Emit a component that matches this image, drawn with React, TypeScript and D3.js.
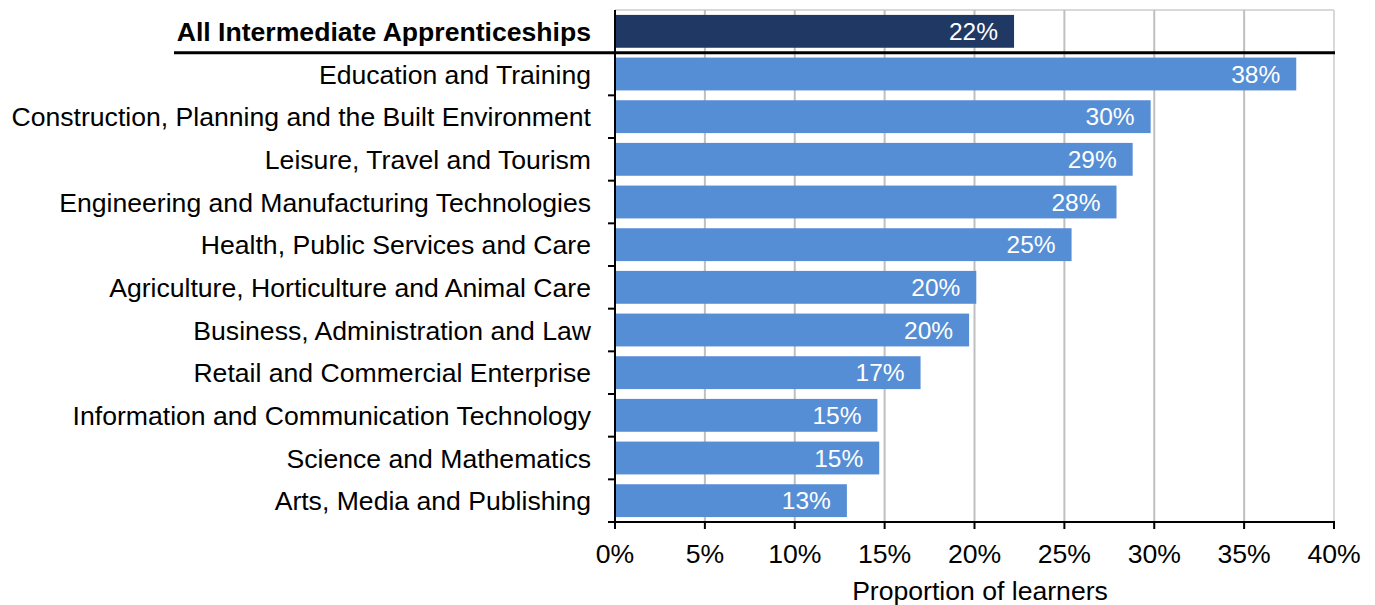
import React from "react";
import * as d3 from "d3";

const categories = [
  "All Intermediate Apprenticeships",
  "Education and Training",
  "Construction, Planning and the Built Environment",
  "Leisure, Travel and Tourism",
  "Engineering and Manufacturing Technologies",
  "Health, Public Services and Care",
  "Agriculture, Horticulture and Animal Care",
  "Business, Administration and Law",
  "Retail and Commercial Enterprise",
  "Information and Communication Technology",
  "Science and Mathematics",
  "Arts, Media and Publishing",
];
const values = [22.2, 37.9, 29.8, 28.8, 27.9, 25.4, 20.1, 19.7, 17.0, 14.6, 14.7, 12.9];
const valueLabels = ["22%", "38%", "30%", "29%", "28%", "25%", "20%", "20%", "17%", "15%", "15%", "13%"];
const xTicks = [0, 5, 10, 15, 20, 25, 30, 35, 40];
const xTitle = "Proportion of learners";

const W = 1375;
const H = 605;
const M = { left: 615, right: 41, top: 10, bottom: 83 };
const FONT = "Liberation Sans, Arial, Helvetica, sans-serif";
const LABEL_SIZE = 26.6;

export default function App() {
  const x = d3.scaleLinear().domain([0, 40]).range([M.left, W - M.right]);
  const y = d3
    .scaleBand<string>()
    .domain(categories)
    .range([M.top, H - M.bottom])
    .paddingInner(0.23)
    .paddingOuter(0.115);
  const step = y.step();
  const top = M.top;
  const bottom = H - M.bottom;
  const boundaries = categories.map((_, i) => top + step * (i + 1));

  return (
    <svg
      width={W}
      height={H}
      style={{ position: "absolute", left: 0, top: 0, background: "#fff" }}
      fontFamily={FONT}
    >
      <line x1={x(0)} x2={x(40)} y1={top} y2={top} stroke="#d9d9d9" strokeWidth={2} />
      {xTicks.slice(1).map((t) => (
        <line
          key={t}
          x1={x(t)}
          x2={x(t)}
          y1={top}
          y2={bottom}
          stroke={t === 40 ? "#d9d9d9" : "#bfbfbf"}
          strokeWidth={2}
        />
      ))}
      {categories.map((c, i) => (
        <rect
          key={c}
          x={x(0)}
          y={y(c)}
          width={x(values[i]) - x(0)}
          height={y.bandwidth()}
          fill={i === 0 ? "#203864" : "#558ed5"}
        />
      ))}
      {categories.map((c, i) => (
        <text
          key={c}
          x={x(values[i]) - 16}
          y={(y(c) as number) + y.bandwidth() / 2}
          dy="0.36em"
          textAnchor="end"
          fill="#fff"
          fontSize={24.5}
        >
          {valueLabels[i]}
        </text>
      ))}
      {categories.map((c, i) => (
        <text
          key={c}
          x={x(0) - 24}
          y={(y(c) as number) + y.bandwidth() / 2}
          dy="0.36em"
          textAnchor="end"
          fill="#000"
          fontSize={LABEL_SIZE}
          fontWeight={i === 0 ? "bold" : "normal"}
        >
          {c}
        </text>
      ))}
      <line x1={x(0)} x2={x(0)} y1={top} y2={bottom + 1} stroke="#000" strokeWidth={2} />
      {boundaries.map((b, i) =>
        i === 0 ? null : (
          <line key={i} x1={x(0) - 7} x2={x(0)} y1={b} y2={b} stroke="#000" strokeWidth={2} />
        )
      )}
      <line x1={174} x2={x(40) + 1} y1={boundaries[0]} y2={boundaries[0]} stroke="#000" strokeWidth={3} />
      <line x1={x(0) - 1} x2={x(40) + 1} y1={bottom} y2={bottom} stroke="#000" strokeWidth={2} />
      {xTicks.map((t) => (
        <g key={t}>
          <line x1={x(t)} x2={x(t)} y1={bottom} y2={bottom + 7} stroke="#000" strokeWidth={2} />
          <text x={x(t)} y={563} textAnchor="middle" fontSize={LABEL_SIZE} fill="#000">
            {t + "%"}
          </text>
        </g>
      ))}
      <text x={980} y={600} textAnchor="middle" fontSize={LABEL_SIZE} fill="#000">
        {xTitle}
      </text>
    </svg>
  );
}
